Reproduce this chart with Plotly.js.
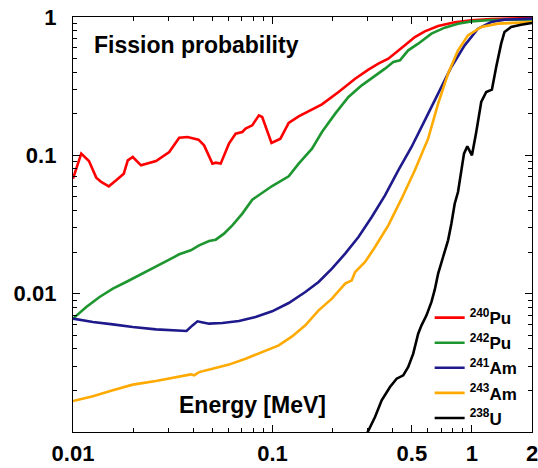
<!DOCTYPE html>
<html>
<head>
<meta charset="utf-8">
<script src="https://cdn.plot.ly/plotly-3.0.1.min.js"></script>
<style>html,body{margin:0;padding:0;background:#fff;}#plot{width:538px;height:468px;}</style>
</head>
<body>
<div id="plot"></div>
<script>
// Energy [MeV] and fission probability for each nucleus
const pu240_x = [0.01,0.0110,0.01202,0.01308,0.01385,0.01512,0.01646,0.01797,0.01882,0.01993,0.02193,0.02606,0.03038,0.03408,0.0375,0.04256,0.04541,0.050,0.05194,0.055,0.0605,0.06536,0.0706,0.0733,0.0792,0.0855,0.0888,0.0989,0.1096,0.1206,0.1353,0.1578,0.1770,0.2144,0.2596,0.3026,0.3395,0.3808,0.4111,0.4612,0.5173,0.5803,0.6768,0.8194,0.992,1.249,2.0];
const pu240_y = [0.0678,0.1028,0.0910,0.0690,0.0642,0.0597,0.0660,0.0737,0.0920,0.0973,0.0847,0.0910,0.1057,0.1341,0.1357,0.1298,0.1181,0.0871,0.0885,0.0871,0.1215,0.1434,0.1475,0.1559,0.1647,0.1946,0.1893,0.1228,0.1320,0.1713,0.1913,0.2138,0.2337,0.287,0.3582,0.4163,0.4599,0.4997,0.543,0.624,0.7167,0.788,0.861,0.915,0.946,0.967,0.983];

const pu242_x = [0.01,0.01166,0.01359,0.01584,0.01846,0.02151,0.02606,0.03038,0.03408,0.03896,0.04288,0.04811,0.05194,0.05716,0.0629,0.0706,0.0792,0.0888,0.0996,0.1206,0.1353,0.1578,0.1770,0.2063,0.2404,0.2803,0.3266,0.3665,0.4034,0.4354,0.4792,0.5376,0.6266,0.7304,0.8513,0.992,1.249,2.0];
const pu242_y = [0.00660,0.00801,0.00946,0.01087,0.01214,0.01357,0.01576,0.01761,0.01925,0.02057,0.02236,0.02403,0.02457,0.02715,0.0312,0.0379,0.0478,0.0537,0.0600,0.0705,0.0871,0.1117,0.1475,0.2001,0.2641,0.3207,0.3725,0.4232,0.4728,0.486,0.5742,0.6415,0.7577,0.8374,0.895,0.930,0.951,0.962];

const am241_x = [0.01,0.01258,0.01584,0.01993,0.02606,0.03156,0.03708,0.03972,0.04207,0.04541,0.04811,0.05609,0.06792,0.08226,0.0996,0.1206,0.1461,0.1703,0.1986,0.2314,0.2698,0.3145,0.3665,0.4272,0.4979,0.5803,0.6768,0.7885,0.9192,1.072,1.249,1.456,2.0];
const am241_y = [0.00660,0.00624,0.00600,0.00574,0.00552,0.00543,0.00537,0.00590,0.00631,0.00617,0.00607,0.00614,0.00634,0.00678,0.00745,0.00856,0.01028,0.01214,0.01516,0.01947,0.02568,0.03583,0.05139,0.0779,0.1149,0.1791,0.2791,0.4351,0.624,0.8235,0.920,0.957,0.973];

const am243_x = [0.01,0.01258,0.01584,0.01993,0.02606,0.03156,0.03896,0.04048,0.04288,0.050,0.0605,0.0733,0.0888,0.1075,0.1254,0.1461,0.1703,0.1986,0.2314,0.2498,0.2596,0.2912,0.3266,0.3808,0.4439,0.5173,0.603,0.6768,0.759,0.8513,0.955,1.113,1.349,2.0];
const am243_y = [0.001675,0.001810,0.00200,0.00220,0.00234,0.00247,0.00261,0.00257,0.00271,0.00287,0.00307,0.00339,0.00379,0.00423,0.00491,0.00590,0.00758,0.00920,0.01181,0.01249,0.01434,0.01694,0.02175,0.0312,0.0486,0.0779,0.1320,0.2363,0.3895,0.5742,0.737,0.847,0.895,0.920];

const u238_x = [0.295,0.3266,0.3527,0.3882,0.4192,0.4524,0.4792,0.5077,0.5376,0.5586,0.5916,0.6266,0.651,0.6768,0.7166,0.759,0.7885,0.8194,0.8513,0.8848,0.9123,0.9478,1.0,1.051,1.113,1.179,1.259,1.323,1.401,1.456,1.571,1.763,2.0];
const u238_y = [0.00095,0.001283,0.001694,0.002115,0.002429,0.002568,0.002950,0.003683,0.00514,0.00590,0.00697,0.00871,0.01069,0.01395,0.01841,0.02429,0.03207,0.04473,0.0543,0.0779,0.1028,0.1162,0.100,0.1475,0.2429,0.287,0.2983,0.4351,0.6415,0.779,0.847,0.880,0.905];

const seriesNames = ['<sup>240</sup>Pu','<sup>242</sup>Pu','<sup>241</sup>Am','<sup>243</sup>Am','<sup>238</sup>U'];
const seriesColors = ['#ff0000','#1e9630','#1f1a8c','#ffaa00','#000000'];

const xTickVals = [0.01,0.1,0.5,1,2];
const xTickText = ['0.01','0.1','0.5','1','2'];
const xMinorVals = [0.02,0.03,0.04,0.05,0.06,0.07,0.08,0.09,0.2,0.3,0.4,0.6,0.7,0.8,0.9];
const yTickVals = [0.01,0.1,1];
const yTickText = ['0.01','0.1','1'];
const yMinorVals = [0.002,0.003,0.004,0.005,0.006,0.007,0.008,0.009,0.02,0.03,0.04,0.05,0.06,0.07,0.08,0.09,0.2,0.3,0.4,0.5,0.6,0.7,0.8,0.9];

const xs = [pu240_x,pu242_x,am241_x,am243_x,u238_x];
const ys = [pu240_y,pu242_y,am241_y,am243_y,u238_y];

const FONT = 'Liberation Sans, Arial, Helvetica, sans-serif';

const traces = xs.map((x,i)=>({
  x: x, y: ys[i], type:'scatter', mode:'lines', name: seriesNames[i],
  line:{color: seriesColors[i], width:2.6}
}));

const axisCommon = {
  type:'log', showgrid:false, zeroline:false, showline:true, linecolor:'#000', linewidth:1.2,
  mirror:'allticks', ticks:'inside', ticklen:7, tickwidth:1, tickcolor:'#000',
  tickfont:{family:FONT, size:22, color:'#000', weight:700},
  tickmode:'array', ticklabeloverflow:'allow'
};

const layout = {
  width:538, height:468,
  margin:{l:73, r:6, t:17, b:36, pad:0},
  paper_bgcolor:'#fff', plot_bgcolor:'#fff',
  showlegend:true,
  legend:{x:0.777, y:0.318, xanchor:'left', yanchor:'top', bgcolor:'rgba(0,0,0,0)',
    font:{family:FONT, size:17, color:'#000', weight:700}, itemwidth:30, tracegroupgap:0},
  xaxis: Object.assign({}, axisCommon, {
    range:[Math.log10(0.01), Math.log10(2)],
    tickvals:xTickVals, ticktext:xTickText, ticklabelstandoff:1,
    minor:{tickmode:'array', tickvals:xMinorVals, ticks:'inside', ticklen:4, tickcolor:'#000', showgrid:false}
  }),
  yaxis: Object.assign({}, axisCommon, {
    range:[-3, 0],
    tickvals:yTickVals, ticktext:yTickText, ticklabelstandoff:11,
    minor:{tickmode:'array', tickvals:yMinorVals, ticks:'inside', ticklen:4, tickcolor:'#000', showgrid:false}
  }),
  annotations:[
    {xref:'paper', yref:'paper', x:0.041, y:0.9325, xanchor:'left', yanchor:'middle', showarrow:false,
     text:'Fission probability', font:{family:FONT, size:23, color:'#000', weight:700}},
    {xref:'paper', yref:'paper', x:0.39, y:0.065, xanchor:'center', yanchor:'middle', showarrow:false,
     text:'Energy [MeV]', font:{family:FONT, size:23, color:'#000', weight:700}}
  ]
};

Plotly.newPlot('plot', traces, layout, {staticPlot:true, displayModeBar:false});
</script>
</body>
</html>
